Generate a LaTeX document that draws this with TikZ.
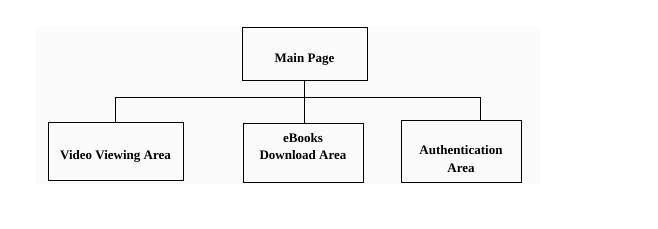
\documentclass[tikz,border=0pt]{standalone}
\usepackage{fontspec}
\setmainfont{Liberation Serif}
\usetikzlibrary{positioning}

\newcommand{\twolines}[2]{\begin{tabular}{@{}c@{}}#1\\#2\end{tabular}}
\newcommand{\nudge}[2]{\raisebox{#1}[0pt][0pt]{#2}}

\begin{document}
\begin{tikzpicture}[
  x=1pt,y=-1pt,
  page/.style={draw,line width=1pt,align=center,inner sep=0pt,
    font=\fontsize{13}{17.5}\selectfont\bfseries},
  link/.style={draw,line width=0.9pt}
]
  \useasboundingbox (0,0) rectangle (658,229);
  \fill[black!1.5] (36,27) rectangle (540,184);
  \node[page,minimum width=125pt,minimum height=53pt] (main) at (304.5,54.5) {\nudge{-8pt}{Main Page}};
  \node[page,minimum width=135pt,minimum height=58pt] (video) at (115.5,152) {\nudge{-7.5pt}{Video Viewing Area}};
  \node[page,minimum width=120pt,minimum height=59pt] (ebooks) at (303,153.5) {\nudge{3pt}{\twolines{eBooks}{Download Area}}};
  \node[page,minimum width=120pt,minimum height=62pt] (auth) at (461,152) {\nudge{-11pt}{\twolines{Authentication}{Area}}};
  \coordinate (bus) at (0,97);
  \coordinate (drop) at ([xshift=19pt]auth.north);
  % tree connectors
  \draw[link] (main.south) -- (main.south |- ebooks.north);
  \draw[link] (video.north) -- (video.north |- bus) -- (drop |- bus) -- (drop);
\end{tikzpicture}
\end{document}
